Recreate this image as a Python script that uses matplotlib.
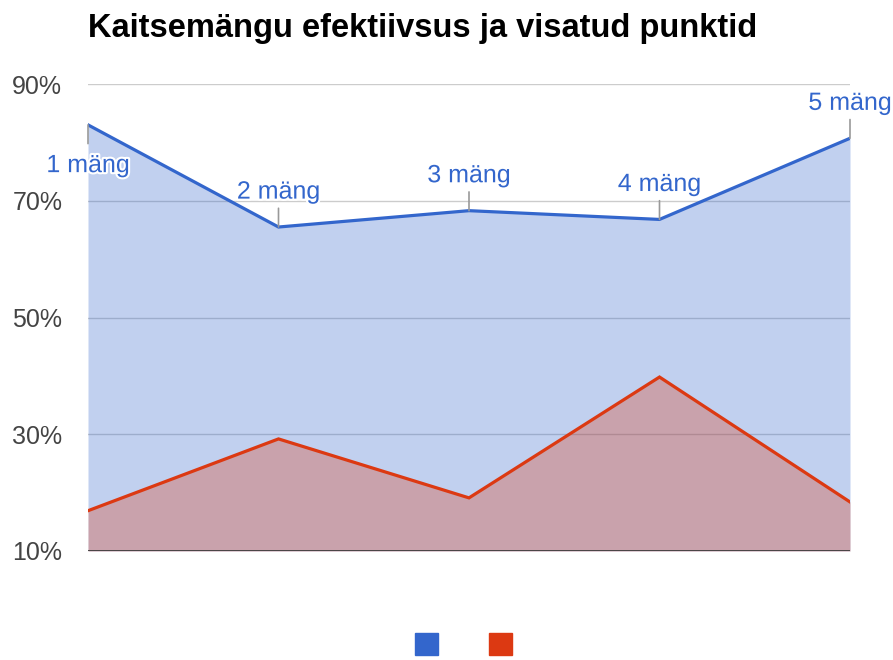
import matplotlib
matplotlib.use("Agg")
import matplotlib.pyplot as plt
import matplotlib.patheffects as pe
from matplotlib.patches import Patch

plt.rcParams['font.family'] = ['Liberation Sans', 'DejaVu Sans']

games = ['1 mäng', '2 mäng', '3 mäng', '4 mäng', '5 mäng']
efficiency = [83.0, 65.5, 68.3, 66.8, 80.7]
points = [16.9, 29.2, 19.1, 39.8, 18.4]
yticks = [10, 30, 50, 70, 90]

blue = '#3366cc'
red = '#dc3912'

fig = plt.figure(figsize=(8.93, 6.6), dpi=100)
ax = fig.add_axes([88 / 893, 1 - 551 / 660, (850 - 88) / 893, (551 - 84) / 660])

x = list(range(len(games)))

# gridlines under the areas
for t in yticks[1:]:
    ax.axhline(t, color='#cccccc', lw=1, zorder=0)

ax.fill_between(x, 10, efficiency, color=blue, alpha=0.3, lw=0, zorder=1)
ax.fill_between(x, 10, points, color=red, alpha=0.3, lw=0, zorder=2)
ax.plot(x, efficiency, color=blue, lw=2.3, zorder=3, solid_joinstyle='miter')
ax.plot(x, points, color=red, lw=2.3, zorder=3, solid_joinstyle='miter')
ax.axhline(10, color='#333333', lw=1.2, zorder=4)

# point labels with small stems (first one hangs below its point)
outline = [pe.withStroke(linewidth=3, foreground='white')]
for i, (g, v) in enumerate(zip(games, efficiency)):
    d = -1 if i == 0 else 1
    ax.annotate('', xy=(i, v), xytext=(0, d * 13.5), textcoords='offset points',
                arrowprops=dict(arrowstyle='-', color='#999999', lw=1.2,
                                shrinkA=0, shrinkB=0), zorder=5)
    off = 29 if d < 0 else 25.5
    ax.annotate(g, xy=(i, v), xytext=(0, d * off), textcoords='offset points',
                ha='center', va='center', fontsize=18, color=blue,
                path_effects=outline, zorder=6, annotation_clip=False)

ax.set_xlim(0, 4)
ax.set_ylim(10, 90)
ax.set_yticks(yticks)
ax.set_yticklabels([f'{t}%' for t in yticks])
ax.set_xticks([])
ax.tick_params(axis='y', length=0, pad=18.5, labelsize=18, labelcolor='#444444')
for s in ax.spines.values():
    s.set_visible(False)

fig.text(88 / 893, 1 - 37 / 660, 'Kaitsemängu efektiivsus ja visatud punktid',
         fontsize=23.5, fontweight='bold', color='#000000', va='baseline', ha='left')

fig.legend(handles=[Patch(color=blue), Patch(color=red)], labels=['', ''],
           loc='center', bbox_to_anchor=(463.5 / 893, 1 - 646 / 660), ncol=2,
           frameon=False, handlelength=0.83, handleheight=0.83,
           columnspacing=1.83, handletextpad=0, fontsize=20,
           borderpad=0, borderaxespad=0)

fig.savefig('out.png', dpi=100)
